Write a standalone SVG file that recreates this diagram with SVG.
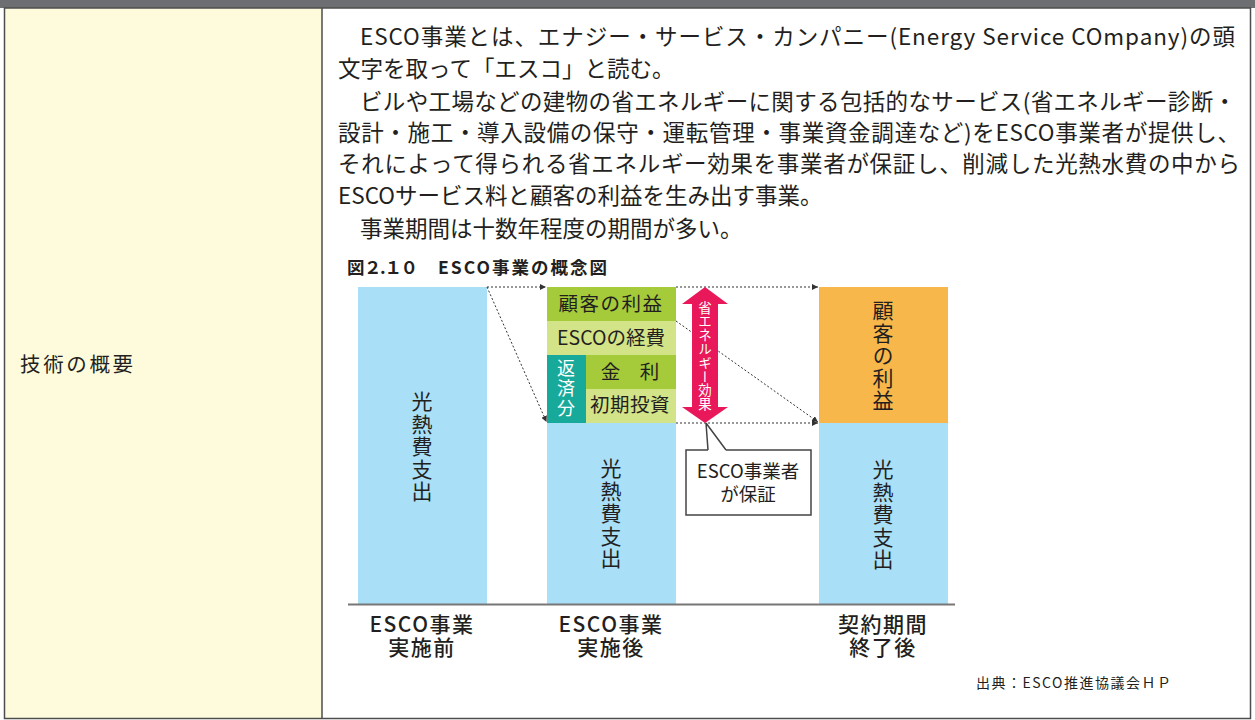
<svg xmlns="http://www.w3.org/2000/svg" width="1255" height="720" viewBox="0 0 1255 720">
<style>
text{font-family:"Noto Sans CJK JP","Noto Sans",sans-serif;fill:#231f20}
.body{font-size:22.5px}
.vt{writing-mode:vertical-rl;text-orientation:upright;text-anchor:middle}
.lbl{font-size:19.5px;text-anchor:middle}
.bot{font-size:21px;font-weight:500;text-anchor:middle;letter-spacing:1.5px}
.dot{fill:none;stroke:#333;stroke-width:1;stroke-dasharray:2 2}
</style>
<defs>
<marker id="ah" markerUnits="userSpaceOnUse" markerWidth="7" markerHeight="6" refX="6" refY="3" orient="auto">
<path d="M0,0 L6,3 L0,6 z" fill="#333"/>
</marker>
</defs>
<g id="frame">
<rect x="0" y="0" width="1255" height="8" fill="#6d6e71"/>
<rect x="4.5" y="8" width="317.5" height="710.5" fill="#fefbdd"/>
<rect x="322" y="8" width="928" height="710.5" fill="#ffffff"/>
<rect x="4.5" y="8" width="1246" height="710.5" fill="none" stroke="#4d4d4d" stroke-width="1.5"/>
<line x1="322" y1="8" x2="322" y2="718.5" stroke="#4d4d4d" stroke-width="1.5"/>
</g>
<g id="label">
<text x="20" y="372" font-size="20.5" textLength="113">技術の概要</text>
</g>
<g id="body">
<text class="body" x="360" y="45" textLength="875">ESCO事業とは、エナジー・サービス・カンパニー(Energy Service COmpany)の頭</text>
<text class="body" x="338" y="77">文字を取って「エスコ」と読む。</text>
<text class="body" x="360" y="110" textLength="876">ビルや工場などの建物の省エネルギーに関する包括的なサービス(省エネルギー診断・</text>
<text class="body" x="338" y="141" textLength="902">設計・施工・導入設備の保守・運転管理・事業資金調達など)をESCO事業者が提供し、</text>
<text class="body" x="338" y="172" textLength="902">それによって得られる省エネルギー効果を事業者が保証し、削減した光熱水費の中から</text>
<text class="body" x="338" y="204">ESCOサービス料と顧客の利益を生み出す事業。</text>
<text class="body" x="360" y="237">事業期間は十数年程度の期間が多い。</text>
</g>
<g id="caption">
<text x="347" y="274" font-size="17.5" font-weight="bold">図<tspan x="364" textLength="54">２.１０</tspan><tspan x="438" textLength="169">ESCO事業の概念図</tspan></text>
</g>
<g id="bar-before">
<rect x="358" y="287" width="129" height="317" fill="#aadff8"/>
<text class="vt" x="422" y="447" font-size="21" letter-spacing="1.5">光熱費支出</text>
</g>
<g id="bar-after">
<rect x="547" y="423" width="129" height="181" fill="#aadff8"/>
<text class="vt" x="611" y="514" font-size="21" letter-spacing="1.5">光熱費支出</text>
</g>
<g id="benefit">
<rect x="547" y="287" width="129" height="34" fill="#a5cb3a"/>
<text class="lbl" x="611" y="311" letter-spacing="1.5">顧客の利益</text>
</g>
<g id="esco-cost">
<rect x="547" y="321" width="129" height="34" fill="#d3e388"/>
<text class="lbl" x="611" y="345">ESCOの経費</text>
</g>
<g id="repay">
<rect x="547" y="355" width="39" height="68" fill="#17a99a"/>
<text class="vt" x="566" y="389" font-size="18" letter-spacing="2" style="fill:#fff">返済分</text>
</g>
<g id="interest">
<rect x="586" y="355" width="90" height="34" fill="#a5cb3a"/>
<text class="lbl" x="630" y="379">金　利</text>
</g>
<g id="initial">
<rect x="586" y="389" width="90" height="34" fill="#d3e388"/>
<text class="lbl" x="630" y="412" font-size="16.5" letter-spacing="0.5">初期投資</text>
</g>
<g id="bar-end">
<rect x="819" y="287" width="129" height="136" fill="#f8b74a"/>
<rect x="819" y="423" width="129" height="181" fill="#aadff8"/>
<text class="vt" x="883" y="356" font-size="21" letter-spacing="1.5">顧客の利益</text>
<text class="vt" x="883" y="515" font-size="21" letter-spacing="1.5">光熱費支出</text>
</g>
<g id="connectors">
<path class="dot" d="M487,287 L546,287" marker-end="url(#ah)"/>
<path class="dot" d="M487,287 L546.5,422" marker-end="url(#ah)"/>
<path class="dot" d="M676,287 L818,287" marker-end="url(#ah)"/>
<path class="dot" d="M676,321 L818,422" marker-end="url(#ah)"/>
<path class="dot" d="M676,423 L818,423" marker-end="url(#ah)"/>
</g>
<g id="saving-arrow">
<polygon points="705,287 728,304 718,304 718,407 728,407 705,423 682,407 692,407 692,304 682,304" fill="#e9185a"/>
<text class="vt" x="705" y="356" font-size="13.5" letter-spacing="0.3" style="fill:#fff">省エネルギー効果</text>
</g>
<g id="callout">
<path d="M708,450 L686,450 L686,515 L811,515 L811,450 L726,450 L706,423 Z" fill="#fff" stroke="none"/>
<path d="M708,450 L686,450 L686,515 L811,515 L811,450 L726,450 M706,423 L708,450 M706,423 L726,450" fill="none" stroke="#444" stroke-width="1.5"/>
<text x="748" y="478" font-size="18.5" text-anchor="middle">ESCO事業者<tspan x="748" y="501">が保証</tspan></text>
</g>
<g id="axis">
<line x1="348" y1="604.5" x2="955" y2="604.5" stroke="#777" stroke-width="2"/>
<text class="bot" x="422" y="632">ESCO事業<tspan x="422" y="655">実施前</tspan></text>
<text class="bot" x="611" y="632">ESCO事業<tspan x="611" y="655">実施後</tspan></text>
<text class="bot" x="883" y="632">契約期間<tspan x="883" y="655">終了後</tspan></text>
</g>
<g id="source">
<text x="976" y="688" font-size="14" fill="#333" letter-spacing="1.5">出典：ESCO推進協議会ＨＰ</text>
</g>
</svg>
